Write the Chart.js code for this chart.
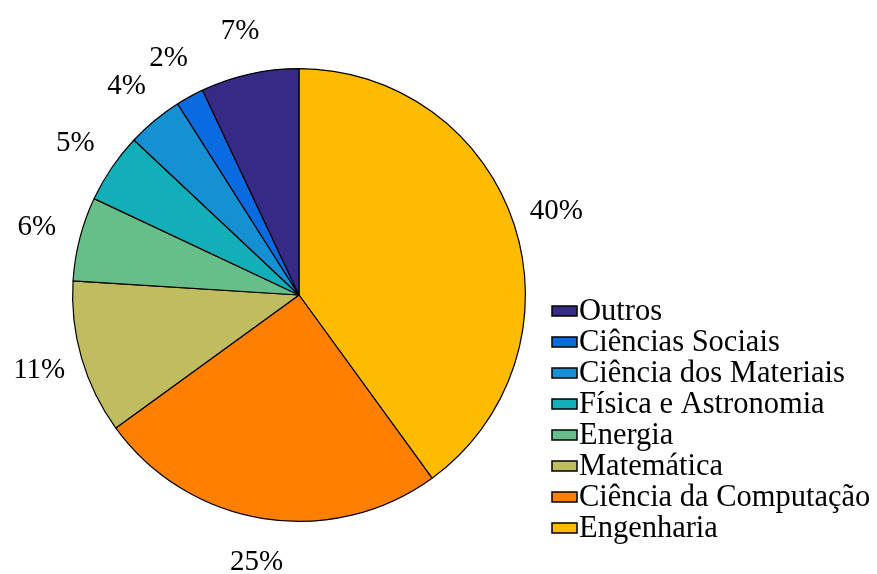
<!DOCTYPE html>
<html>
<head>
<meta charset="utf-8">
<script src="https://cdn.jsdelivr.net/npm/chart.js@4/dist/chart.umd.min.js"></script>
<style>
  html, body { margin: 0; padding: 0; background: #fff; }
  #wrap { width: 877px; height: 574px; }
</style>
</head>
<body>
<div id="wrap"><canvas id="pie"></canvas></div>
<script>
// Categorias e percentuais (sentido horário a partir do topo)
const categorias = ['Engenharia', 'Ciência da Computação', 'Matemática', 'Energia',
    'Física e Astronomia', 'Ciência dos Materiais', 'Ciências Sociais', 'Outros'];
const percentuais = [40, 25, 11, 6, 5, 4, 2, 7];
const cores = ['#FFBB00', '#FF7F00', '#C0BD60', '#66BF88', '#12AFB9', '#1590D2', '#0A6BE0', '#362A87'];

const fonte = '"Liberation Serif", "Times New Roman", serif';

// Rótulos de percentual fora das fatias
const rotulosPlugin = {
    id: 'rotulos',
    afterDatasetsDraw(chart) {
        const ctx = chart.ctx;
        const meta = chart.getDatasetMeta(0);
        ctx.save();
        ctx.font = '29px ' + fonte;
        ctx.fillStyle = '#000';
        ctx.textAlign = 'center';
        ctx.textBaseline = 'middle';
        meta.data.forEach((arc, i) => {
            const p = arc.getProps(['x', 'y', 'startAngle', 'endAngle', 'outerRadius'], true);
            const ang = (p.startAngle + p.endAngle) / 2;
            const r = p.outerRadius * 1.195;
            ctx.fillText(percentuais[i] + '%', p.x + Math.cos(ang) * r, p.y + Math.sin(ang) * r);
        });
        ctx.restore();
    }
};

// Legenda desenhada à direita, em ordem inversa
const legendaPlugin = {
    id: 'legenda',
    afterDraw(chart) {
        const ctx = chart.ctx;
        ctx.save();
        ctx.font = '30.5px ' + fonte;
        ctx.textBaseline = 'middle';
        let y = 311;
        for (let i = categorias.length - 1; i >= 0; i--) {
            ctx.fillStyle = cores[i];
            ctx.fillRect(552, y - 5, 25, 10);
            ctx.lineWidth = 1.5;
            ctx.strokeStyle = '#000';
            ctx.strokeRect(552, y - 5, 25, 10);
            ctx.fillStyle = '#000';
            ctx.fillText(categorias[i], 579, y + 1);
            y += 31;
        }
        ctx.restore();
    }
};

new Chart(document.getElementById('pie'), {
    type: 'pie',
    data: {
        labels: categorias,
        datasets: [{
            data: percentuais,
            backgroundColor: cores,
            borderColor: '#000',
            borderWidth: 1.2
        }]
    },
    options: {
        responsive: true,
        maintainAspectRatio: false,
        animation: false,
        layout: { padding: { left: 72, right: 351, top: 68, bottom: 52 } },
        plugins: {
            legend: { display: false },
            tooltip: { enabled: false }
        }
    },
    plugins: [rotulosPlugin, legendaPlugin]
});
</script>
</body>
</html>
